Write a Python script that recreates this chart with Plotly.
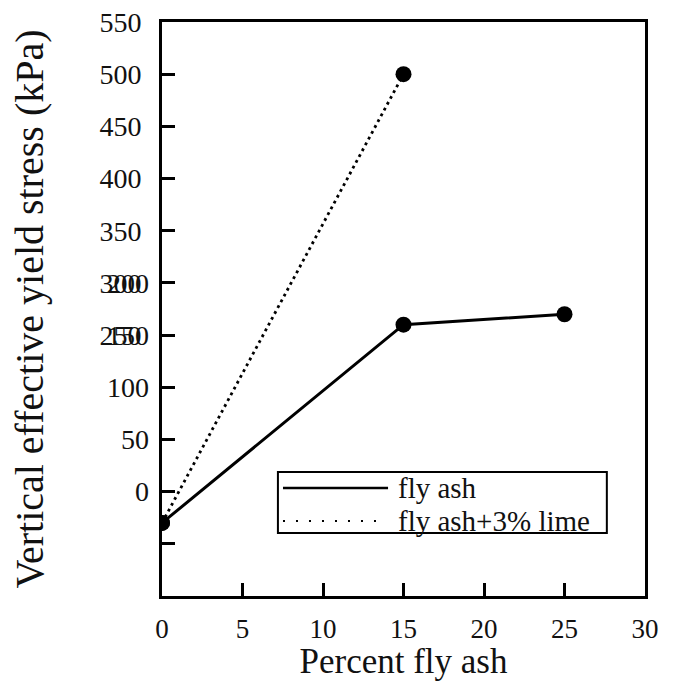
import plotly.graph_objects as go

# Data
fly_ash_x = [0, 15, 25]
fly_ash_y = [70, 260, 270]
lime_x = [0, 15]
lime_y = [70, 500]

series_names = ["fly ash", "fly ash+3% lime"]

# Tick labels as printed on the reference
x_tickvals = [0, 5, 10, 15, 20, 25, 30]
y_tickvals = [0, 50, 100, 150, 200, 250, 300, 350, 400, 450, 500, 550]
y_ticktext = ["", "", "", "", "", "250", "300", "350", "400", "450", "500", "550"]
y2_tickvals = [100, 150, 200, 250, 300]
y2_ticktext = ["0", "50", "100", "150", "200"]

FONT = "Liberation Serif"
INK = "#111111"

fig = go.Figure()
fig.add_trace(go.Scatter(
    x=lime_x, y=lime_y, name=series_names[1], mode="lines+markers",
    line=dict(color="black", width=2.8, dash="2.8px,3.8px"),
    marker=dict(color="black", size=16), showlegend=False))
fig.add_trace(go.Scatter(
    x=fly_ash_x, y=fly_ash_y, name=series_names[0], mode="lines+markers",
    line=dict(color="black", width=3),
    marker=dict(color="black", size=16), showlegend=False))
# invisible trace to activate overlay axis
fig.add_trace(go.Scatter(x=[None], y=[None], yaxis="y2", showlegend=False, hoverinfo="skip"))

# Manual legend (box + samples + labels)
fig.add_shape(type="rect", xref="paper", yref="paper", x0=0.240, x1=0.921, y0=0.1099, y1=0.2162,
              line=dict(color="black", width=2), fillcolor="white", layer="above")
fig.add_shape(type="line", xref="paper", yref="paper", x0=0.2505, x1=0.468, y0=0.1883, y1=0.1883,
              line=dict(color="black", width=2.5), layer="above")
fig.add_shape(type="line", xref="paper", yref="paper", x0=0.2505, x1=0.4555, y0=0.1308, y1=0.1308,
              line=dict(color="black", width=2, dash="2px,11px"), layer="above")
for name, yy in zip(series_names, [0.1883, 0.1308]):
    fig.add_annotation(text=name, xref="paper", yref="paper", x=0.4845, y=yy,
                       xanchor="left", yanchor="middle", showarrow=False,
                       font=dict(family=FONT, size=29, color=INK))

fig.update_layout(
    width=675, height=681,
    margin=dict(l=162, r=30, t=22, b=85),
    paper_bgcolor="white", plot_bgcolor="white",
    font=dict(family=FONT, color=INK),
    xaxis=dict(range=[0, 30], tickvals=x_tickvals, ticks="inside", ticklen=13, tickwidth=3,
               tickcolor="black", showline=True, linecolor="black", linewidth=3, mirror=True,
               showgrid=False, zeroline=False, tickfont=dict(size=27, family=FONT, color=INK),
               ticklabelstandoff=7, automargin=False,
               title=dict(text="Percent fly ash", font=dict(size=35, family=FONT, color=INK), standoff=3)),
    yaxis=dict(range=[0, 550], tickvals=y_tickvals, ticktext=y_ticktext, ticks="inside", ticklen=13,
               tickwidth=3, tickcolor="black", showline=True, linecolor="black", linewidth=3, mirror=True,
               showgrid=False, zeroline=False, tickfont=dict(size=28, family=FONT, color=INK),
               ticklabelstandoff=12, automargin=False,
               title=dict(text="Vertical effective yield stress (kPa)", font=dict(size=40, family=FONT, color=INK),
                          standoff=44)),
    yaxis2=dict(range=[0, 550], overlaying="y", side="left", anchor="x", tickvals=y2_tickvals,
                ticktext=y2_ticktext, ticks="", showline=False, showgrid=False, zeroline=False,
                tickfont=dict(size=28, family=FONT, color=INK), ticklabelstandoff=12, automargin=False),
)

fig.write_html("out.html")
